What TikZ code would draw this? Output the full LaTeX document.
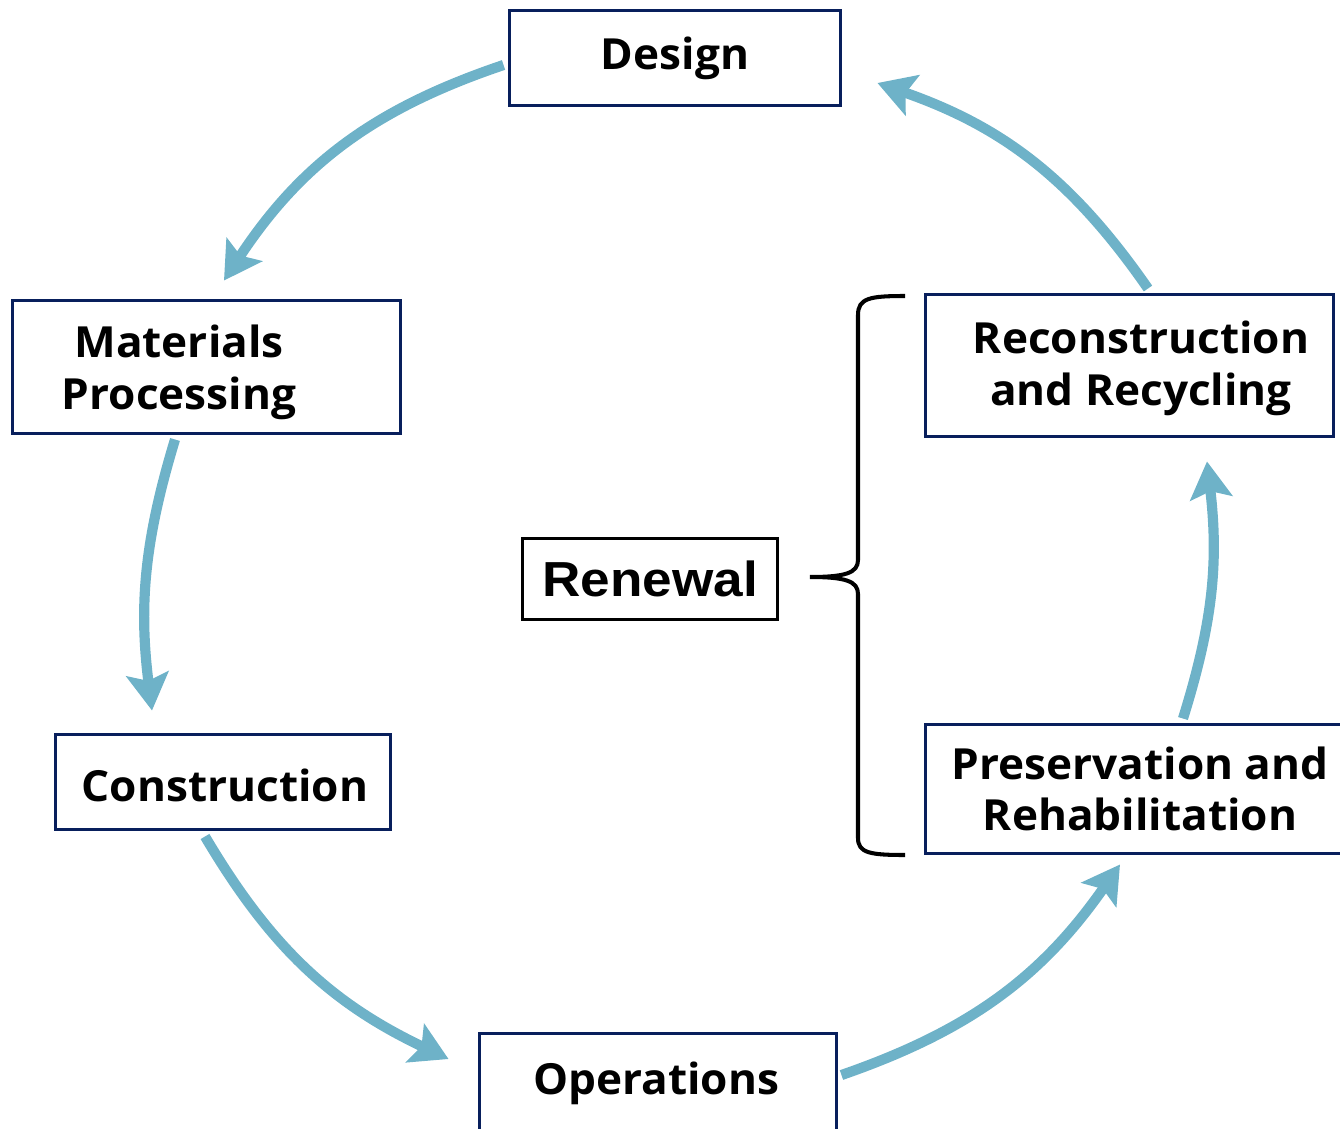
\documentclass[tikz,border=0pt]{standalone}
\usepackage{fontspec}
\usetikzlibrary{arrows.meta}
\newfontfamily\stagefont[FakeStretch=1.03]{Open Sans}
\newfontfamily\renewfont[FakeStretch=1.08]{Liberation Sans}
\definecolor{boxnavy}{RGB}{8,31,92}
\definecolor{flowblue}{RGB}{110,178,200}

\begin{document}
\begin{tikzpicture}[x=0.02cm, y=-0.02cm,
    stage/.style={rectangle, draw=boxnavy, line width=1.7pt, inner sep=0pt},
    stagetext/.style={font=\stagefont\bfseries\fontsize{24.4}{29.5}\selectfont, align=center},
    flow/.style={draw=flowblue, line width=5.8pt, -{Stealth[length=21pt, width=24pt, inset=4pt]}}
]
    \clip (0,0) rectangle (1340,1129);

    \node[stage, stagetext, minimum width=6.62cm, minimum height=1.9cm] (design) at (675,58) {Design};
    \node[stage, minimum width=7.76cm, minimum height=2.66cm] (mat) at (206.5,367) {};
    \node[stagetext] (matT) at (179,372) {Materials\\Processing};
    \node[stage, minimum width=6.7cm, minimum height=1.9cm] (constr) at (223,782) {};
    \node[stagetext] (constrT) at (225,785) {Construction};
    \node[stage, minimum width=7.14cm, minimum height=3.2cm] (ops) at (658,1113) {};
    \node[stagetext] (opsT) at (656,1083) {Operations};
    \node[stage, minimum width=8.66cm, minimum height=2.58cm] (pres) at (1142,789) {};
    \node[stagetext] (presT) at (1140,789) {Preservation and\\Rehabilitation};
    \node[stage, minimum width=8.16cm, minimum height=2.84cm] (rec) at (1129.5,365.5) {};
    \node[stagetext] (recT) at (1141,368) {Reconstruction\\and Recycling};

    \node[draw, line width=1.7pt, minimum width=5.1cm, minimum height=1.62cm,
          font=\renewfont\bfseries\fontsize{28}{30}\selectfont] (renewal) at (650,579) {Renewal};

    % graffa del rinnovo
    \draw[line width=2.3pt] (905,296) .. controls (870,296) and (858,298) .. (858,315)
        -- (858,560) .. controls (858,573) and (845,577) .. (810,577)
        .. controls (845,577) and (858,581) .. (858,594)
        -- (858,838) .. controls (858,853) and (870,855) .. (905,855);

    % frecce del ciclo
    \draw[flow] ([xshift=-0.09cm,yshift=-0.14cm]design.west) to[bend right=19] ([xshift=0.35cm,yshift=0.37cm]mat.north);
    \draw[flow] ([xshift=-0.63cm,yshift=-0.09cm]mat.south) to[bend right=12] ([xshift=-1.42cm,yshift=0.45cm]constr.north);
    \draw[flow] ([xshift=-0.36cm,yshift=-0.11cm]constr.south) to[bend right=17] ([xshift=-0.59cm,yshift=-0.55cm]ops.north west);
    \draw[flow] ([xshift=0.07cm,yshift=-0.87cm]ops.north east) to[bend right=18] ([xshift=-0.44cm,yshift=-0.19cm]pres.south);
    \draw[flow] ([xshift=0.82cm,yshift=0.09cm]pres.north) to[bend right=12] ([xshift=1.55cm,yshift=-0.47cm]rec.south);
    \draw[flow] ([xshift=0.37cm,yshift=0.09cm]rec.north) to[bend right=18] ([xshift=0.71cm,yshift=-0.5cm]design.east);
\end{tikzpicture}
\end{document}
